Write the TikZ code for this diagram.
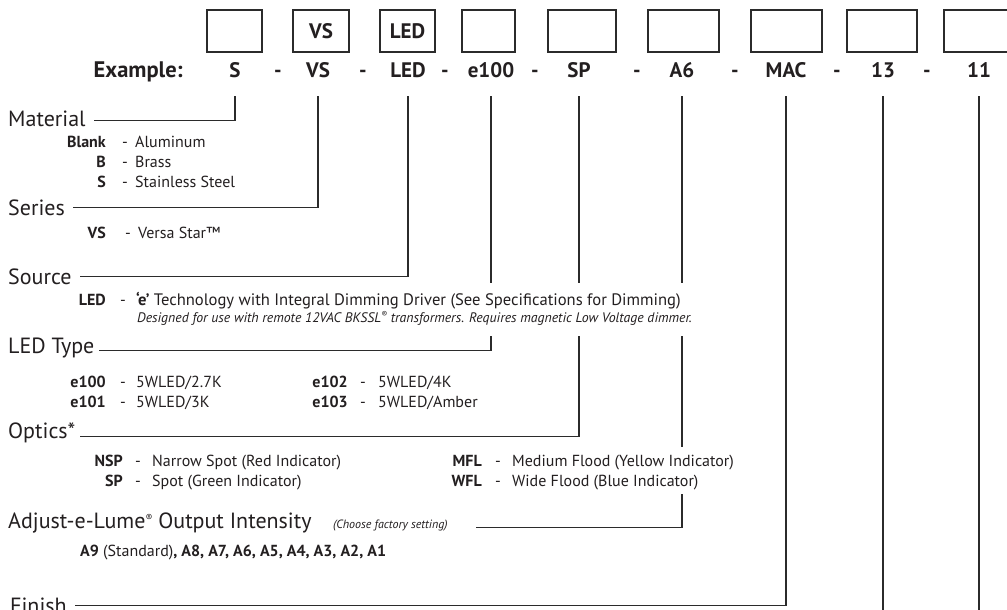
\documentclass[tikz,border=0pt]{standalone}
\usepackage{fontspec}
\setmainfont{PT Sans}
\definecolor{ink}{HTML}{231F20}
\definecolor{wire}{HTML}{2B2B2B}
\newcommand{\regmark}{{\fontsize{8.5}{8.5}\selectfont\raisebox{5.5pt}{®}}}
\begin{document}
\begin{tikzpicture}[x=1pt,y=-1pt,
  every node/.style={inner sep=0pt, text=ink},
  lbl/.style={font=\fontsize{22}{22}\selectfont, anchor=base west},
  sub/.style={font=\fontsize{16}{16}\selectfont, anchor=base west},
  subcode/.style={font=\fontsize{16}{16}\selectfont\bfseries, anchor=base east},
  dashmark/.style={font=\fontsize{16}{16}\selectfont, anchor=base},
  excode/.style={font=\fontsize{21}{21}\selectfont\bfseries, anchor=base},
  codebox/.style={draw=wire, line width=1.3pt, minimum height=42pt,
                  font=\fontsize{21}{21}\selectfont\bfseries},
  conn/.style={draw=wire, line width=1.2pt},
  note/.style={font=\fontsize{13.8}{13.8}\selectfont\itshape, anchor=base west},
  tiny/.style={font=\fontsize{12}{12}\selectfont\itshape, anchor=base west}
]
\useasboundingbox[fill=white] (0,0) rectangle (1007,610);

% code boxes
\node[codebox, minimum width=55pt] (b1) at (234.5,31) {};
\node[codebox, minimum width=56pt] (b2) at (321,31) {VS};
\node[codebox, minimum width=55pt] (b3) at (407.5,31) {LED};
\node[codebox, minimum width=53pt] (b4) at (488.5,31) {};
\node[codebox, minimum width=68pt] (b5) at (582,31) {};
\node[codebox, minimum width=71pt] (b6) at (683.5,31) {};
\node[codebox, minimum width=71pt] (b7) at (786.5,31) {};
\node[codebox, minimum width=70pt] (b8) at (882,31) {};
\node[codebox, minimum width=70pt] (b9) at (979,31) {};

% example row
\node[excode, anchor=base east, font=\fontsize{22.5}{22.5}\selectfont\bfseries] (exlbl) at (183,77.5) {Example:};
\node[excode] (exS) at (235,77.5) {S};
\node[excode] (d1) at (278,77.5) {-};
\node[excode] (exVS) at (318,77.5) {VS};
\node[excode] (d2) at (363,77.5) {-};
\node[excode] (exLED) at (408,77.5) {LED};
\node[excode] (d3) at (445,77.5) {-};
\node[excode] (exE) at (491,77.5) {e100};
\node[excode] (d4) at (535,77.5) {-};
\node[excode] (exSP) at (579,77.5) {SP};
\node[excode] (d5) at (637,77.5) {-};
\node[excode] (exA) at (682,77.5) {A6};
\node[excode] (d6) at (735,77.5) {-};
\node[excode] (exMAC) at (786,77.5) {MAC};
\node[excode] (d7) at (837,77.5) {-};
\node[excode] (ex13) at (883,77.5) {13};
\node[excode] (d8) at (927,77.5) {-};
\node[excode] (ex11) at (979,77.5) {11};

% labels
\node[lbl] (mat) at (8,126.5) {Material};
\node[subcode] (cBlank) at (106,147.5) {Blank};
\node[dashmark] (dBlank) at (125,147.5) {-};
\node[sub] (tBlank) at (135,147.5) {Aluminum};
\node[subcode] (cB) at (106,167.5) {B};
\node[dashmark] (dB) at (125,167.5) {-};
\node[sub] (tB) at (135,167.5) {Brass};
\node[subcode] (cS) at (106,187.5) {S};
\node[dashmark] (dS) at (125,187.5) {-};
\node[sub] (tS) at (135,187.5) {Stainless Steel};

\node[lbl] (ser) at (8,215.5) {Series};
\node[subcode] (cVS) at (106,238.5) {VS};
\node[dashmark] (dVS) at (128,238.5) {-};
\node[sub] (tVS) at (138,238.5) {Versa Star™};

\node[lbl] (src) at (8,284.5) {Source};
\node[subcode] (cLED) at (106,305.5) {LED};
\node[dashmark] (dLED) at (123,305.5) {-};
\node[sub, font=\fontsize{16.6}{16.6}\selectfont] (tLED) at (136,305.5) {\textbf{‘e’} Technology with Integral Dimming Driver (See Specifications for Dimming)};
\node[note] (nLED) at (137,322.5) {Designed for use with remote 12VAC BKSSL\regmark\ transformers. Requires magnetic Low Voltage dimmer.};

\node[lbl] (ltype) at (8,353.5) {LED Type};
\node[subcode] (c100) at (106,387.5) {e100};
\node[dashmark] (d100) at (123,387.5) {-};
\node[sub] (t100) at (136,387.5) {5WLED/2.7K};
\node[subcode] (c101) at (106,407.5) {e101};
\node[dashmark] (d101) at (123,407.5) {-};
\node[sub] (t101) at (136,407.5) {5WLED/3K};
\node[subcode] (c102) at (348,387.5) {e102};
\node[dashmark] (d102) at (363,387.5) {-};
\node[sub] (t102) at (378,387.5) {5WLED/4K};
\node[subcode] (c103) at (348,407.5) {e103};
\node[dashmark] (d103) at (363,407.5) {-};
\node[sub] (t103) at (378,407.5) {5WLED/Amber};

\node[lbl] (opt) at (8,438.5) {Optics*};
\node[subcode] (cNSP) at (123,466.5) {NSP};
\node[dashmark] (dNSP) at (138,466.5) {-};
\node[sub] (tNSP) at (152,466.5) {Narrow Spot (Red Indicator)};
\node[subcode] (cSP) at (123,486.5) {SP};
\node[dashmark] (dSP) at (138,486.5) {-};
\node[sub] (tSP) at (152,486.5) {Spot (Green Indicator)};
\node[subcode] (cMFL) at (482,466.5) {MFL};
\node[dashmark] (dMFL) at (498,466.5) {-};
\node[sub] (tMFL) at (512,466.5) {Medium Flood (Yellow Indicator)};
\node[subcode] (cWFL) at (482,486.5) {WFL};
\node[dashmark] (dWFL) at (498,486.5) {-};
\node[sub] (tWFL) at (512,486.5) {Wide Flood (Blue Indicator)};

\node[lbl] (adj) at (8,528.5) {Adjust-e-Lume{\fontsize{10}{10}\selectfont\raisebox{7.5pt}{®}} Output Intensity};
\node[tiny] (choose) at (333,528.5) {(Choose factory setting)};
\node[sub] (aval) at (80,556.5) {\textbf{A9} (Standard)\textbf{, A8, A7, A6, A5, A4, A3, A2, A1}};

\node[lbl] (fin) at (10,613) {Finish};

% connectors
\coordinate (row) at (0,96);
\coordinate (gapA) at (0,283);
\coordinate (gapB) at (0,336);
\coordinate (gapC) at (0,447);
\coordinate (gapD) at (0,494);
\coordinate (bottom) at (0,620);

\draw[conn] (exS |- row) |- ([xshift=8pt,yshift=-2pt]mat.east);
\draw[conn] (exVS |- row) |- ([xshift=8pt]ser.east);
\draw[conn] (exLED |- row) |- ([xshift=8pt]src.east);

\draw[conn] (exE |- row) -- (exE |- gapA);
\draw[conn] (exE |- gapB) |- ([xshift=4pt,yshift=3pt]ltype.base east);

\draw[conn] (exSP |- row) -- (exSP |- gapA);
\draw[conn] (exSP |- gapB) |- ([xshift=4pt,yshift=2pt]opt.base east);

\draw[conn] (exA |- row) -- (exA |- gapA);
\draw[conn] (exA |- gapB) -- (exA |- gapC);
\draw[conn] (exA |- gapD) |- ([xshift=28pt,yshift=1pt]choose.base east);

\draw[conn] (exMAC |- row) |- ([xshift=8pt]fin.east);
\draw[conn] (ex13 |- row) -- (ex13 |- bottom);
\draw[conn] (ex11 |- row) -- (ex11 |- bottom);
\end{tikzpicture}
\end{document}
